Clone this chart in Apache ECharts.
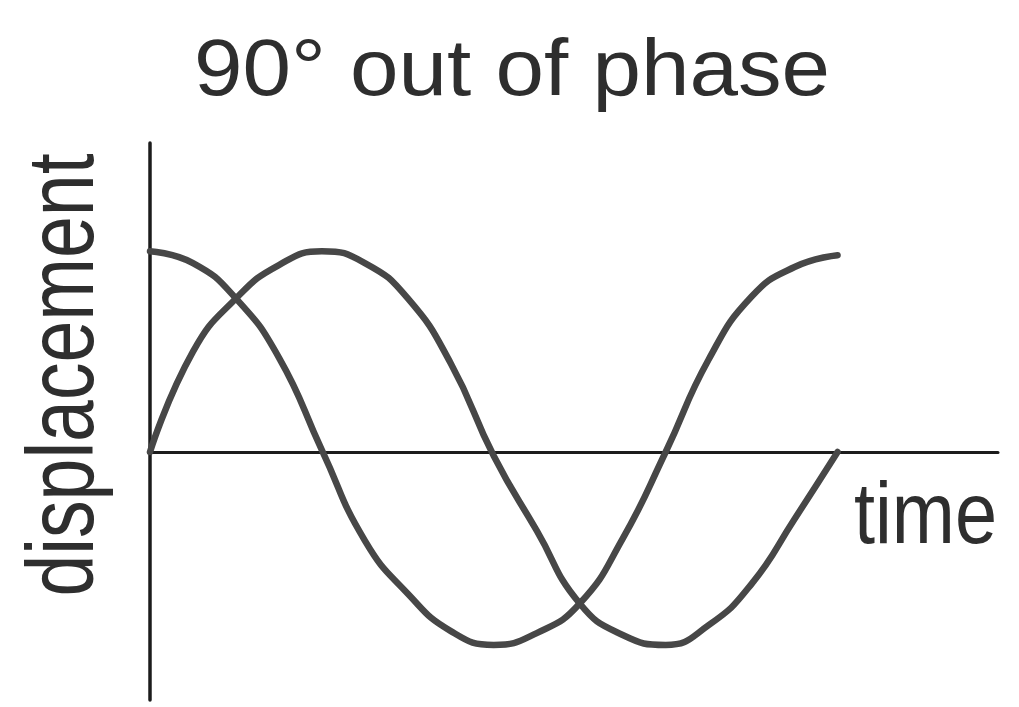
<!DOCTYPE html>
<html>
<head>
<meta charset="utf-8">
<title>90° out of phase</title>
<script src="https://cdn.jsdelivr.net/npm/echarts@6/dist/echarts.min.js"></script>
<style>
  html, body { margin: 0; padding: 0; background: #ffffff; }
  #chart { width: 1019px; height: 707px; }
</style>
</head>
<body>
<div id="chart"></div>
<script>
// Time samples, in degrees of one cycle
const timeDeg = [0, 22.5, 45, 67.5, 90, 112.5, 135, 157.5, 180,
                 202.5, 225, 247.5, 270, 292.5, 315, 337.5, 360];

// Displacement (in amplitudes) of the wave that starts at its maximum
const waveADisp = [1.02, 0.96, 0.78, 0.48, 0.01, -0.45, -0.72, -0.91, -0.98,
                   -0.92, -0.77, -0.44, 0, 0.47, 0.79, 0.94, 1.0];

// Displacement of the wave that starts at zero, a quarter cycle behind
const waveBDisp = [0, 0.51, 0.78, 0.95, 1.02, 0.96, 0.78, 0.45, -0.02,
                   -0.40, -0.77, -0.93, -0.98, -0.88, -0.67, -0.34, 0];

const titleText = '90° out of phase';
const yName = 'displacement';
const xName = 'time';

const pair = (xs, ys) => xs.map((x, i) => [x, ys[i]]);

const lineColor = '#474747';
const axisColor = '#1c1c1c';
const textColor = '#2e2e2e';
const fontFamily = 'Liberation Sans, Arial, sans-serif';

const chart = echarts.init(document.getElementById('chart'), null, { renderer: 'canvas' });

chart.setOption({
  backgroundColor: '#ffffff',
  animation: false,
  grid: { left: 150, right: 21, top: 143, bottom: 7, containLabel: false },
  xAxis: {
    type: 'value',
    min: 0,
    max: 444,
    axisLine: { show: true, onZero: true, lineStyle: { color: axisColor, width: 3 } },
    axisTick: { show: false },
    axisLabel: { show: false },
    splitLine: { show: false }
  },
  yAxis: {
    type: 'value',
    min: -1.26,
    max: 1.57,
    axisLine: { show: true, lineStyle: { color: axisColor, width: 3.5 } },
    axisTick: { show: false },
    axisLabel: { show: false },
    splitLine: { show: false }
  },
  graphic: [
    {
      // chart title, slightly widened lettering
      type: 'text',
      x: 512,
      y: 73,
      scaleX: 1.09,
      style: {
        text: titleText,
        fontFamily: fontFamily,
        fontSize: 80,
        fill: textColor,
        align: 'center',
        verticalAlign: 'middle'
      }
    },
    {
      // vertical axis name, reading bottom to top, condensed lettering
      type: 'text',
      x: 67,
      y: 375,
      rotation: Math.PI / 2,
      scaleX: 0.8,
      style: {
        text: yName,
        fontFamily: fontFamily,
        fontSize: 94,
        fill: textColor,
        align: 'center',
        verticalAlign: 'middle'
      }
    },
    {
      // horizontal axis name below the right end of the axis
      type: 'text',
      x: 854,
      y: 519,
      scaleX: 0.86,
      style: {
        text: xName,
        fontFamily: fontFamily,
        fontSize: 88,
        fill: textColor,
        align: 'left',
        verticalAlign: 'middle'
      }
    }
  ],
  series: [
    {
      name: 'wave A',
      type: 'line',
      data: pair(timeDeg, waveADisp),
      smooth: 0.5,
      showSymbol: false,
      lineStyle: { color: lineColor, width: 6.5, cap: 'round', join: 'round' }
    },
    {
      name: 'wave B',
      type: 'line',
      data: pair(timeDeg, waveBDisp),
      smooth: 0.5,
      showSymbol: false,
      lineStyle: { color: lineColor, width: 6.5, cap: 'round', join: 'round' }
    }
  ]
});
</script>
</body>
</html>
